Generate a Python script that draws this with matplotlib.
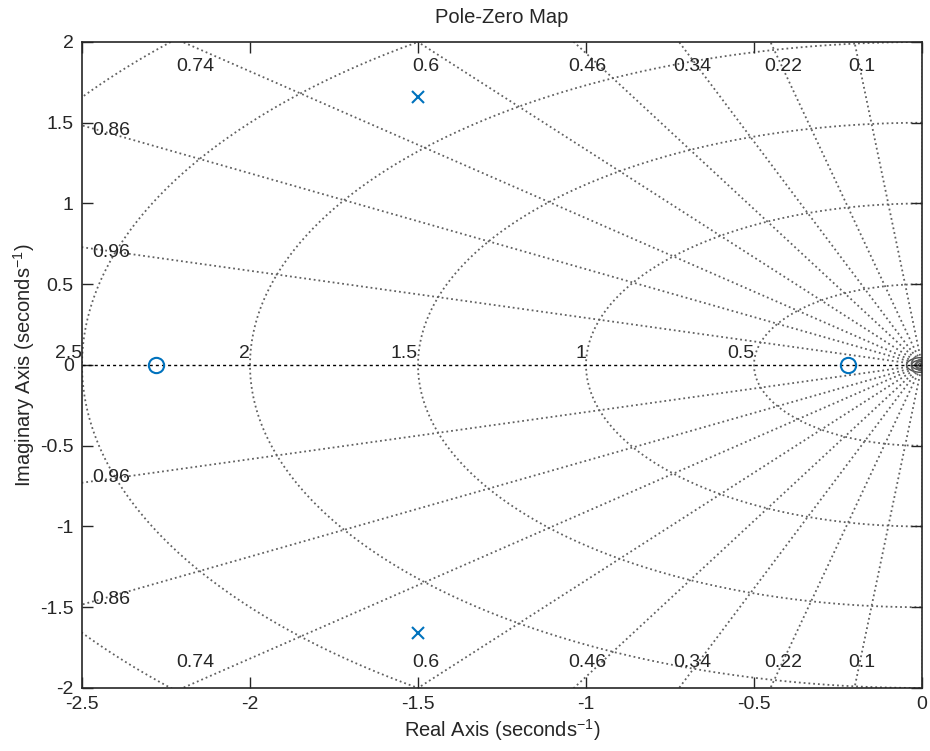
import numpy as np
import matplotlib
matplotlib.use("Agg")
import matplotlib.pyplot as plt

plt.rcParams["font.family"] = ["Liberation Sans", "DejaVu Sans"]
plt.rcParams["mathtext.default"] = "regular"

# system data: poles / zeros
pole_re = [-1.5, -1.5]
pole_im = [1.658, -1.658]
zero_re = [-2.281, -0.219]
zero_im = [0.0, 0.0]

# grid
zeta_vals = [0.1, 0.22, 0.34, 0.46, 0.6, 0.74, 0.86, 0.96]
zeta_labels = ["0.1", "0.22", "0.34", "0.46", "0.6", "0.74", "0.86", "0.96"]
wn_vals = [0.5, 1.0, 1.5, 2.0, 2.5, 3.0]
wn_labels = ["0.5", "1", "1.5", "2", "2.5", ""]
wn_small = [0.011, 0.021, 0.031, 0.046]

xticks = [-2.5, -2, -1.5, -1, -0.5, 0]
xticklabels = ["-2.5", "-2", "-1.5", "-1", "-0.5", "0"]
yticks = [-2, -1.5, -1, -0.5, 0, 0.5, 1, 1.5, 2]
yticklabels = ["-2", "-1.5", "-1", "-0.5", "0", "0.5", "1", "1.5", "2"]

XMIN, XMAX, YMIN, YMAX = -2.5, 0.0, -2.0, 2.0
BLUE = (0, 0.447, 0.741)
TXT = "#262626"
GRID = "0.38"
PX = 0.72  # points per pixel at dpi 100

fig = plt.figure(figsize=(9.30, 7.51), dpi=100)
ax = fig.add_axes([0.0882, 0.0839, 0.9032, 0.8602])
ax.set_xlim(XMIN, XMAX)
ax.set_ylim(YMIN, YMAX)

# natural frequency circles
th = np.linspace(np.pi / 2, 3 * np.pi / 2, 400)
for wn in wn_vals:
    ax.plot(wn * np.cos(th), wn * np.sin(th), color=GRID, ls=":", lw=1.3, zorder=1)
for wn in wn_small:
    ax.plot(wn * np.cos(th), wn * np.sin(th), color="0.3", ls="-", lw=1.0, zorder=1)

# damping lines
for z in zeta_vals:
    r = 6.0
    xe = -r * z
    ye = r * np.sqrt(1 - z ** 2)
    ax.plot([0, xe], [0, ye], color=GRID, ls=":", lw=1.3, zorder=1)
    ax.plot([0, xe], [0, -ye], color=GRID, ls=":", lw=1.3, zorder=1)

# real / imaginary axes
ax.axhline(0, color="black", ls=(0, (2.2, 2.2)), lw=1.0, zorder=2)
ax.axvline(0, color="black", ls=(0, (1, 1.5)), lw=1.0, zorder=2)

# damping labels
for z, lab in zip(zeta_vals, zeta_labels):
    slope = np.sqrt(1 - z ** 2) / z
    xt = -YMAX / slope
    for sgn in (1, -1):
        if xt >= XMIN:
            ax.annotate(lab, (xt, sgn * YMAX), xytext=(-6 * PX, -sgn * 25 * PX),
                        textcoords="offset points", ha="left", va="center",
                        fontsize=14, color=TXT, zorder=3)
        else:
            yl = -XMIN * slope
            ax.annotate(lab, (XMIN, sgn * yl), xytext=(10 * PX, -sgn * 5 * PX),
                        textcoords="offset points", ha="left", va="center",
                        fontsize=14, color=TXT, zorder=3)

# natural frequency labels
for wn, lab in zip(wn_vals, wn_labels):
    if lab:
        ax.annotate(lab, (-wn, 0), xytext=(0, 7 * PX), textcoords="offset points",
                    ha="right", va="baseline", fontsize=14, color=TXT,
                    annotation_clip=False, zorder=3)

# poles and zeros
ax.plot(pole_re, pole_im, ls="none", marker="x", ms=9, mew=1.5, color=BLUE, zorder=4)
ax.plot(zero_re, zero_im, ls="none", marker="o", ms=11, mew=1.5, mfc="none",
        color=BLUE, zorder=4)

ax.set_xticks(xticks)
ax.set_xticklabels(xticklabels)
ax.set_yticks(yticks)
ax.set_yticklabels(yticklabels)
ax.tick_params(direction="in", length=8, width=1, top=True, right=True,
               labelsize=14, colors=TXT, pad=6)
for sp in ax.spines.values():
    sp.set_color(TXT)
    sp.set_linewidth(1.2)

ax.set_title("Pole-Zero Map", fontsize=14.5, color=TXT, pad=14)
ax.set_xlabel("Real Axis (seconds$^{-1}$)", fontsize=14.5, color=TXT, labelpad=3)
ax.set_ylabel("Imaginary Axis (seconds$^{-1}$)", fontsize=14.5, color=TXT, labelpad=2)

fig.savefig("out.png", dpi=100)
